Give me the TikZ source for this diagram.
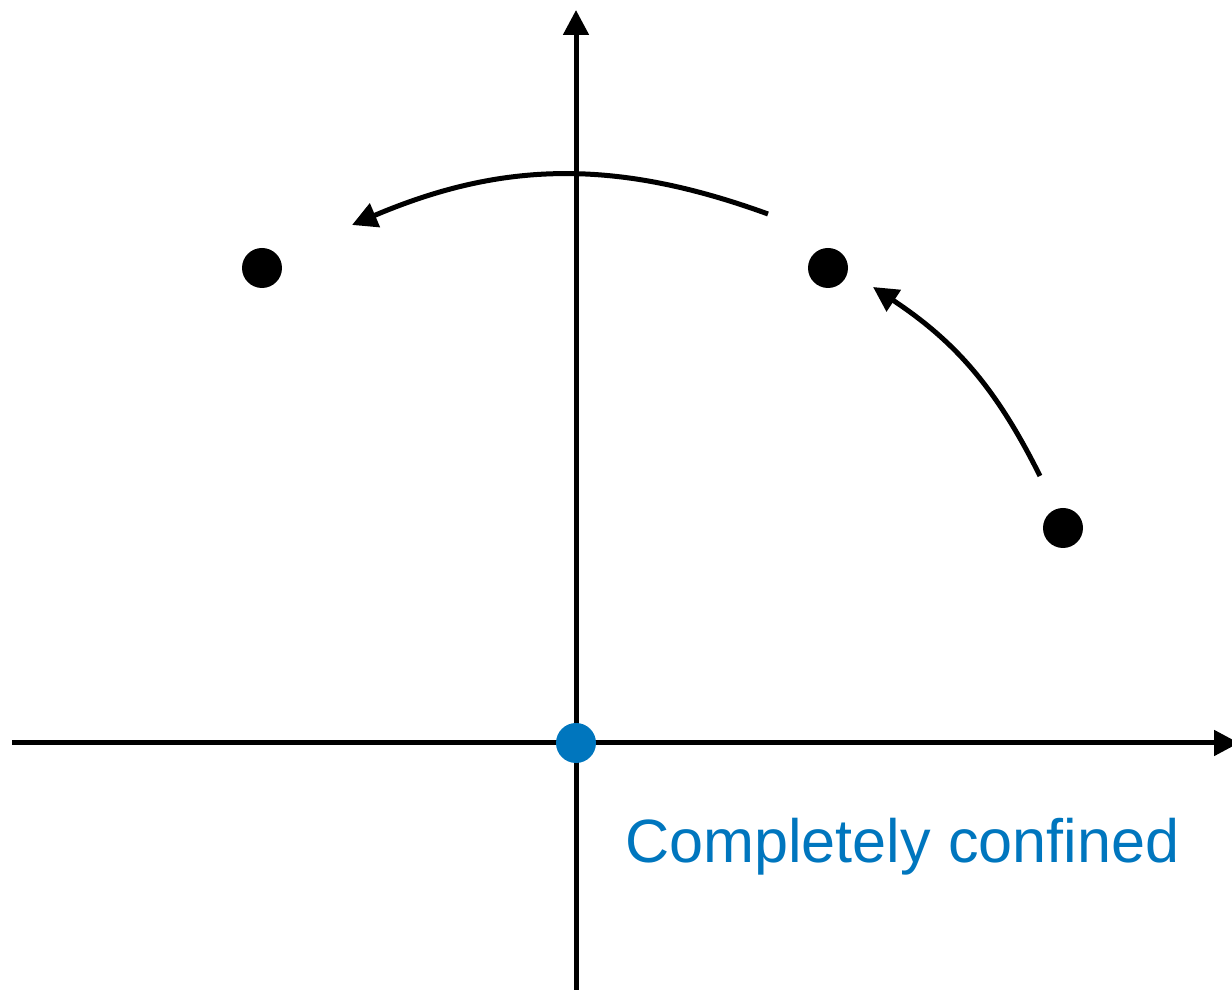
\documentclass[tikz,border=0pt]{standalone}
\usepackage{fontspec}
\setmainfont{Liberation Sans}
\usetikzlibrary{arrows.meta}
\definecolor{confblue}{RGB}{0,118,190}
\tikzset{
  axis/.style={line width=0.1cm, -{Triangle[length=0.5cm,width=0.5cm]}},
  motion/.style={line width=0.1cm, -{Triangle[length=0.5cm,width=0.5cm]}},
  pt/.style={circle, fill=black, inner sep=0pt, minimum size=0.8cm},
  origin/.style={circle, fill=confblue, inner sep=0pt, minimum size=0.8cm},
  lbl/.style={text=confblue, inner sep=0pt, font=\fontsize{34.8}{40}\selectfont}
}
\begin{document}
\begin{tikzpicture}[x=0.02cm, y=0.02cm]
\useasboundingbox (0,0) rectangle (1232,990);
% axes
\coordinate (xs) at (12,247);
\coordinate (xe) at (1239,247);
\coordinate (ys) at (576,-5);
\coordinate (ye) at (576,980);
\draw[axis] (xs) -- (xe);
\draw[axis] (ys) -- (ye);
% points
\node[origin] (o) at (576,247) {};
\node[pt] (p1) at (262,722) {};
\node[pt] (p2) at (828,722) {};
\node[pt] (p3) at (1063,462) {};
% motion arrows
\coordinate (a1s) at (768,776);
\coordinate (a1e) at (352,765);
\coordinate (a2s) at (1040,514);
\coordinate (a2e) at (873,703);
\draw[motion] (a1s) to[bend right=21.5] (a1e);
\draw[motion] (a2s) to[bend right=15] (a2e);
% label
\node[lbl, anchor=base west] (t) at (625,127) {Completely confined};
\end{tikzpicture}
\end{document}
